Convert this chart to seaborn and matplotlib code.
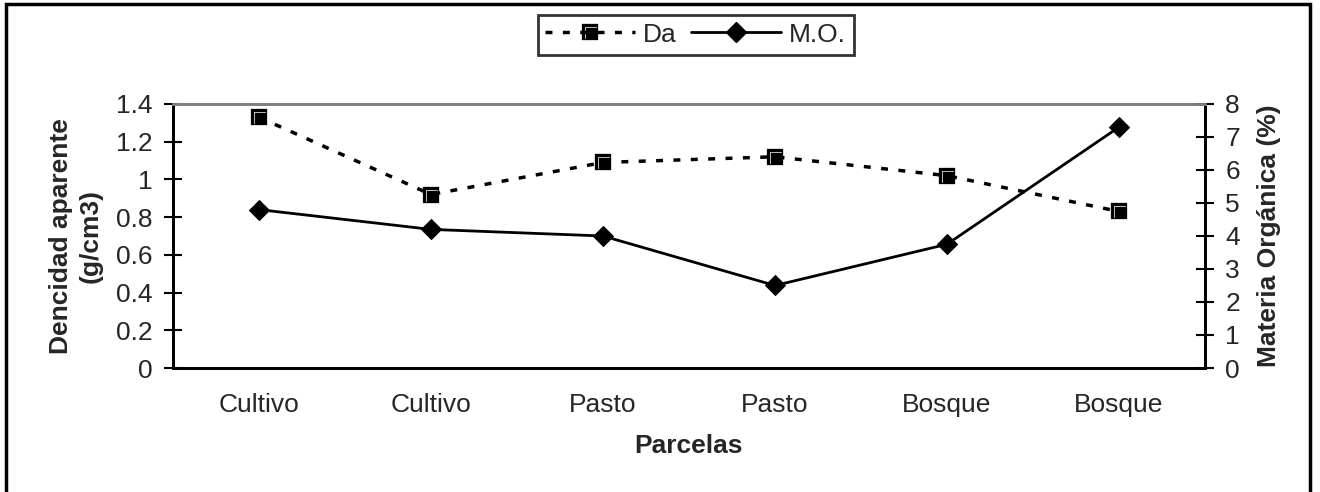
import matplotlib
matplotlib.use("Agg")
import matplotlib.pyplot as plt
import seaborn as sns
import pandas as pd
from matplotlib.lines import Line2D
from matplotlib.patches import Rectangle
from matplotlib.path import Path

categories = ["Cultivo", "Cultivo", "Pasto", "Pasto", "Bosque", "Bosque"]
da_values = [1.33, 0.92, 1.09, 1.12, 1.02, 0.83]
mo_values = [4.8, 4.2, 4.0, 2.5, 3.75, 7.3]
left_ticks = [0, 0.2, 0.4, 0.6, 0.8, 1, 1.2, 1.4]
left_tick_labels = ["0", "0.2", "0.4", "0.6", "0.8", "1", "1.2", "1.4"]
right_ticks = [0, 1, 2, 3, 4, 5, 6, 7, 8]

sns.set_style("white")
plt.rcParams["font.family"] = ["Liberation Sans", "DejaVu Sans"]

TICK_FS = 19
LABEL_FS = 19

# Excel-style square marker: black square with a thin white inner corner
_outer = [(-1, -1), (1, -1), (1, 1), (-1, 1), (-1, -1)]
_inner = [(-0.62, -0.8), (-0.62, 0.62), (0.8, 0.62), (0.8, 0.48),
          (-0.48, 0.48), (-0.48, -0.8), (-0.62, -0.8)]
_verts = _outer + _inner
_codes = ([Path.MOVETO] + [Path.LINETO] * 3 + [Path.CLOSEPOLY]
          + [Path.MOVETO] + [Path.LINETO] * 5 + [Path.CLOSEPOLY])
SQ_MARK = Path(_verts, _codes)

df = pd.DataFrame({"pos": range(len(categories)), "cat": categories,
                   "Da": da_values, "MO": mo_values})

fig = plt.figure(figsize=(13.2, 4.92), dpi=100)
ax = fig.add_axes([173/1320, 1-368/492, (1205-173)/1320, (368-104)/492])
ax2 = ax.twinx()

DASH = (0, (2, 3.0))
sns.lineplot(data=df, x="pos", y="Da", ax=ax, color="black", lw=2.5,
             marker=SQ_MARK, markersize=12, markeredgecolor="black", markeredgewidth=0.2,
             markerfacecolor="black", legend=False)
ax.lines[0].set_linestyle(DASH)
sns.lineplot(data=df, x="pos", y="MO", ax=ax2, color="black", lw=2,
             marker="D", markersize=10, markeredgecolor="black",
             markerfacecolor="black", legend=False)

ax.set_xlim(-0.5, 5.5)
ax.set_ylim(0, 1.4)
ax2.set_ylim(0, 8)
ax.set_yticks(left_ticks)
ax.set_yticklabels(left_tick_labels)
ax2.set_yticks(right_ticks)
ax.set_xticks([i - 0.5 for i in range(len(categories) + 1)])
ax.set_xticklabels([])
ax.set_xticks(list(range(len(categories))), minor=True)
ax.set_xticklabels(categories, minor=True)

ax.tick_params(axis="x", which="major", direction="inout", length=13, width=1.5, color="black")
ax.tick_params(axis="x", which="minor", length=0, labelsize=TICK_FS, pad=18)
ax.tick_params(axis="y", direction="inout", length=13, width=1.5, color="black",
               labelsize=TICK_FS, pad=8, left=True)
ax2.tick_params(axis="y", direction="inout", length=13, width=1.5, color="black",
                labelsize=TICK_FS, pad=8, right=True)

for a in (ax, ax2):
    for s in ("left", "right", "bottom"):
        a.spines[s].set_color("black")
        a.spines[s].set_linewidth(2)
    a.spines["top"].set_color("#808080")
    a.spines["top"].set_linewidth(2)
    a.grid(False)

ax.set_xlabel("Parcelas", fontsize=LABEL_FS, fontweight="bold", labelpad=12)
ax.set_ylabel("Dencidad aparente\n(g/cm3)", fontsize=LABEL_FS, fontweight="bold",
              labelpad=10, linespacing=1.3)
ax2.set_ylabel("Materia Orgánica (%)", fontsize=LABEL_FS, fontweight="bold", labelpad=12)

h1 = Line2D([], [], color="black", lw=2.5, linestyle=DASH, marker=SQ_MARK, markersize=12,
            markeredgewidth=0.2)
h2 = Line2D([], [], color="black", lw=2, marker="D", markersize=10)
leg = fig.legend([h1, h2], ["Da", "M.O."], loc="upper center", bbox_to_anchor=(0.527, 0.97),
                 ncol=2, frameon=True, fancybox=False, fontsize=19, handlelength=3.4,
                 handletextpad=0.3, columnspacing=0.55, borderpad=0.3, borderaxespad=0)
leg.get_frame().set_edgecolor("black")
leg.get_frame().set_linewidth(2)

fig.patches.append(Rectangle((6/1320, -0.05), (1310-6)/1320, (1 - 4/492) + 0.05,
                             transform=fig.transFigure, fill=False, edgecolor="black",
                             linewidth=2.5, zorder=-1))

fig.savefig("out.png", dpi=100)
